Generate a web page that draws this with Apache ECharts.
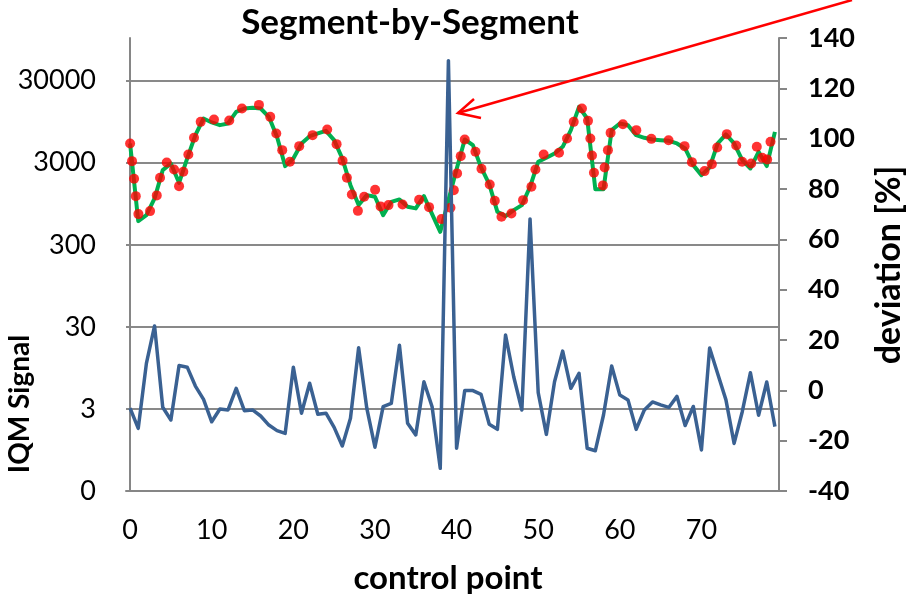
<!DOCTYPE html>
<html><head><meta charset="utf-8">
<script src="https://cdn.jsdelivr.net/npm/echarts@6/dist/echarts.min.js"></script>
<style>html,body{margin:0;padding:0;background:#fff}#c{width:906px;height:594px}</style>
</head><body><div id="c"></div>
<script>
// categories: control point index 0..79
const controlPoints = Array.from({length: 80}, (_, i) => String(i));
// left axis tick labels (log decades starting at 0.3 shown as "0")
const leftTickLabels = ['0', '3', '30', '300', '3000', '30000'];
const leftBase = 0.3;
// green line: IQM signal per control point
const signalFit = [5150,583,690,1102,2438,2940,1707,3382,6504,10380,
  9290,8613,9040,12500,13740,14000,13740,10870,6210,2728,
  3382,5154,6327,6825,7340,5652,3382,1600,914,1209,
  1154,690,1002,1072,871,833,1175,710,432,1050,
  2500,5760,4914,2627,1646,757,671,794,914,1527,
  3078,3444,3892,4690,7485,14390,10380,1430,1430,7485,
  9040,8613,6504,6040,5760,5652,5547,5154,4480,2805,
  2119,2627,5154,6636,5154,3228,2553,4074,2728,7131];
// red dots: segment positions and signal
const segmentX = [0,0.24,0.49,0.70,1.02,2.45,3.27,3.67,4.49,5.39,
  6.00,6.52,7.14,7.83,8.65,10.28,12.15,13.71,15.79,17.17,
  17.91,18.64,19.58,20.72,22.36,24.15,25.30,26.03,26.56,27.17,
  27.91,28.68,30.02,30.69,31.66,33.38,35.41,36.63,38.15,39.25,
  39.66,40.06,40.51,41.00,42.31,43.05,44.06,44.68,45.50,46.72,
  48.14,49.17,49.66,50.67,52.55,53.53,54.35,55.36,56.10,56.39,
  56.59,56.83,57.93,58.14,58.54,58.87,60.38,62.02,63.86,65.97,
  67.93,68.83,70.38,71.27,71.93,73.11,74.26,74.99,76.09,76.78,
  77.44,78.05,78.46];
const segmentSignal = [5150,3136,1910,1175,710,772,1200,1964,3027,2486,
  1556,2324,3786,6040,9445,10100,9822,13740,15210,10870,
  6825,4270,3078,4780,6504,7637,5057,3165,1964,1233,
  778,1154,1403,881,914,931,1060,863,617,847,
  1390,2224,3610,5760,4074,2530,1633,1031,658,723,
  1050,1527,2486,3786,3963,5931,9445,13740,9711,5931,
  3681,2260,1589,2627,4270,6936,8853,7485,5862,5652,
  4780,3050,2372,2884,4606,6690,4875,3078,2940,4690,
  3444,3289,5397];
// blue line: deviation [%]
const deviation = [-7.1,-15.1,10.7,25.6,-6.7,-11.8,9.9,9.2,1.7,-3.6,
  -12.5,-7.4,-7.8,0.8,-8.1,-7.8,-10.2,-13.8,-16,-17.1,
  9.2,-9.1,2.8,-9.5,-9.1,-14.7,-22.1,-11.1,16.9,-7.1,
  -22.6,-6.5,-5.2,17.9,-13.1,-17.7,3.4,-6.5,-31,131,
  -23,-0.1,-0.1,-1.6,-13.5,-15.5,22,5.4,-7.8,68.1,
  -0.9,-17.5,3.4,15.6,0.8,6.8,-23,-24,-9.8,9.7,
  -1.9,-3.8,-15.5,-7.8,-4.6,-5.8,-6.8,-2.4,-14,-6.4,
  -23.7,16.8,6.5,-3.8,-21.1,-8.5,7,-9.9,3.3,-14.4];

const toLog = v => Math.log10(v / leftBase);
const FONT = 'Lato';
const gridColor = '#898989';

const chart = echarts.init(document.getElementById('c'), null, {renderer: 'canvas'});
chart.setOption({
  backgroundColor: '#fff',
  animation: false,
  grid: {left: 126, right: 127, top: 38, bottom: 103, containLabel: false},
  xAxis: [{
    type: 'category', data: controlPoints, boundaryGap: true,
    axisLine: {show: true, lineStyle: {color: '#868686', width: 2}},
    axisTick: {show: false},
    axisLabel: {interval: 9, color: '#000', fontFamily: FONT, fontSize: 27, margin: 26},
    splitLine: {show: false}
  }, {
    type: 'value', min: -0.5, max: 79.5, show: false
  }],
  yAxis: [{
    type: 'value', min: 0, max: 5.52, interval: 1, position: 'left',
    axisLine: {show: true, lineStyle: {color: '#868686', width: 2}},
    axisTick: {show: false},
    axisLabel: {
      color: '#000', fontFamily: FONT, fontSize: 27, margin: 30,
      showMaxLabel: false,
      formatter: v => (Math.abs(v - Math.round(v)) < 1e-6 ? (leftTickLabels[Math.round(v)] || '') : '')
    },
    splitLine: {show: true, showMaxLine: false, lineStyle: {color: gridColor, width: 2}}
  }, {
    type: 'value', min: -40, max: 140, interval: 20, position: 'right',
    axisLine: {show: true, lineStyle: {color: '#868686', width: 2}},
    axisTick: {show: true, inside: false, length: 8, lineStyle: {color: '#868686', width: 2}},
    axisLabel: {color: '#000', fontFamily: FONT, fontSize: 27, fontWeight: 'bold', margin: 29},
    splitLine: {show: false}
  }],
  series: [{
    type: 'line', name: 'fit', xAxisIndex: 0, yAxisIndex: 0,
    data: signalFit.map(toLog), symbol: 'none',
    lineStyle: {color: '#00b050', width: 4, join: 'round'}, z: 2
  }, {
    type: 'scatter', name: 'segments', xAxisIndex: 1, yAxisIndex: 0,
    data: segmentX.map((x, i) => [x, toLog(segmentSignal[i])]),
    symbol: 'circle', symbolSize: 10,
    itemStyle: {color: '#ff0000'}, z: 3
  }, {
    type: 'line', name: 'deviation', xAxisIndex: 0, yAxisIndex: 1,
    data: deviation, symbol: 'none',
    lineStyle: {color: '#3a6192', width: 3.5, join: 'round'}, z: 4
  }],
  graphic: [
    {type: 'text', x: 410, y: 23, z: 10, style: {text: 'Segment-by-Segment', fill: '#000',
      font: 'bold 35px ' + FONT, textAlign: 'center', textVerticalAlign: 'middle'}},
    {type: 'text', x: 20, y: 404, rotation: Math.PI / 2, z: 10, style: {text: 'IQM Signal', fill: '#000',
      font: 'bold 28px ' + FONT, textAlign: 'center', textVerticalAlign: 'middle'}},
    {type: 'text', x: 889, y: 265, rotation: Math.PI / 2, z: 10, style: {text: 'deviation [%]', fill: '#000',
      font: 'bold 34px ' + FONT, textAlign: 'center', textVerticalAlign: 'middle'}},
    {type: 'text', x: 448, y: 578, z: 10, style: {text: 'control point', fill: '#000',
      font: 'bold 33px ' + FONT, textAlign: 'center', textVerticalAlign: 'middle'}},
    {type: 'line', z: 20, shape: {x1: 458, y1: 113, x2: 852, y2: 0},
      style: {stroke: '#ff0000', lineWidth: 2.5}},
    {type: 'polyline', z: 20, shape: {points: [[474, 99], [458, 113], [481, 118]]},
      style: {stroke: '#ff0000', lineWidth: 2.5, fill: null}}
  ]
});
</script>
</body></html>
